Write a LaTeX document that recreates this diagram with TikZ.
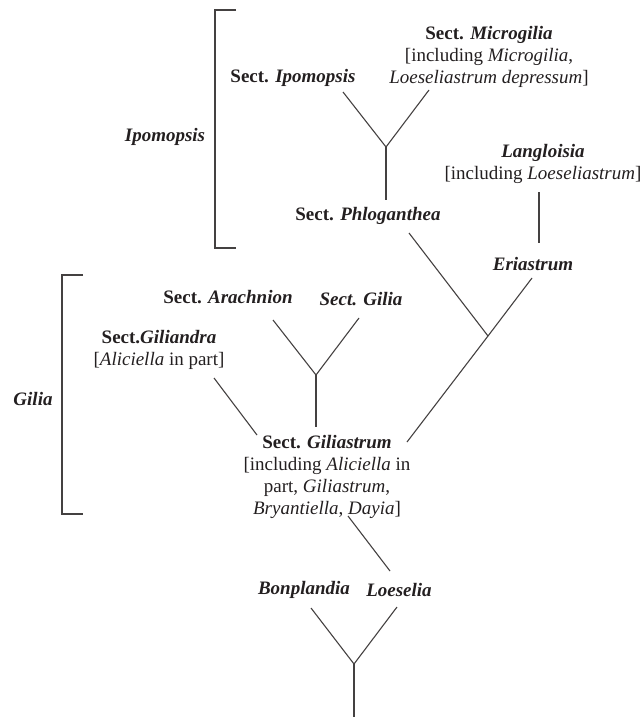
\documentclass[tikz,border=0pt]{standalone}
\usepackage{fontspec}
\setmainfont{Liberation Serif}
\definecolor{ink}{HTML}{231F20}
\tikzset{
	taxon/.style={text=ink, align=center, inner sep=1pt, yshift=-2pt,
		font=\fontsize{19}{21.7}\selectfont},
	branch/.style={draw=ink!85, line width=1.1pt},
	bracket/.style={draw=ink!85, line width=1.1pt},
}
\newcommand{\sect}[1]{\textbf{Sect. \textit{#1}}}
\begin{document}
\begin{tikzpicture}[x=1pt, y=-1pt]
	\useasboundingbox (0,0) rectangle (644,717);
	% Klammern der Gattungen
	\draw[bracket] (236,10) -- (215,10) -- (215,248) -- (236,248);
	\node[taxon] (ipomopsis) at (165,135) {\textbf{\textit{Ipomopsis}}};
	\draw[bracket] (83,275) -- (62,275) -- (62,514) -- (83,514);
	\node[taxon] (gilia) at (33,397) {\textbf{\textit{Gilia}}};

	% Taxa
	\node[taxon] (microgilia) at (489,55) {\sect{Microgilia}\\
		{[}including \textit{Microgilia},\\
		\textit{Loeseliastrum depressum}]};
	\node[taxon] (ipo) at (293,76) {\sect{Ipomopsis}};
	\node[taxon] (phlog) at (368,214) {\sect{Phloganthea}};
	\node[taxon] (langloisia) at (543,162) {\textbf{\textit{Langloisia}}\\
		{[}including \textit{Loeseliastrum}]};
	\node[taxon] (eriastrum) at (533,262) {\textbf{\textit{Eriastrum}}};
	\node[taxon] (arachnion) at (228,295) {\sect{Arachnion}};
	\node[taxon] (sgilia) at (361,297) {\textbf{\textit{Sect. Gilia}}};
	\node[taxon] (giliandra) at (159,348) {\textbf{Sect.\textit{Giliandra}}\\
		{[}\textit{Aliciella} in part]};
	\node[taxon] (giliastrum) at (327,475) {\sect{Giliastrum}\\
		{[}including \textit{Aliciella} in\\
		part, \textit{Giliastrum},\\
		\textit{Bryantiella}, \textit{Dayia}]};
	\node[taxon] (bonplandia) at (304,588) {\textbf{\textit{Bonplandia}}};
	\node[taxon] (loeselia) at (399,588) {\textbf{\textit{Loeselia}}};

	% Verzweigungen
	\coordinate (j-ipo) at (386,147);
	\coordinate (j-eri) at (488,336);
	\coordinate (j-gil) at (316,375);
	\coordinate (j-root) at (354,664);
	\coordinate (root) at (354,717);

	% Aeste
	\draw[branch] (343,92) -- (j-ipo);
	\draw[branch] (429,90) -- (j-ipo);
	\draw[branch] (j-ipo) -- (386,200);
	\draw[branch] (539,192) -- (539,243);
	\draw[branch] (409,233) -- (j-eri);
	\draw[branch] (532,278) -- (j-eri) -- (407,442);
	\draw[branch] (273,320) -- (j-gil);
	\draw[branch] (359,318) -- (j-gil);
	\draw[branch] (j-gil) -- (316,427);
	\draw[branch] (214,378) -- (257,435);
	\draw[branch] (348,516) -- (390,571);
	\draw[branch] (311,608) -- (j-root);
	\draw[branch] (397,607) -- (j-root);
	\draw[branch] (j-root) -- (root);
\end{tikzpicture}
\end{document}
